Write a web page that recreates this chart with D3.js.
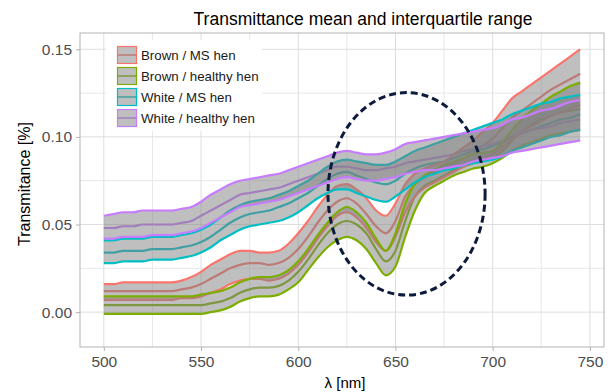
<!DOCTYPE html>
<html><head><meta charset="utf-8">
<script src="https://cdn.jsdelivr.net/npm/d3@7"></script>
<style>body{margin:0;background:#fff;} svg{display:block;font-family:"Liberation Sans",Arial,sans-serif;}</style>
</head><body><svg id="chart" width="616" height="392"></svg>
<script>
const wavelengths = [500,505,510,515,520,525,530,535,540,545,550,555,560,565,570,575,580,585,590,595,600,605,610,615,620,625,630,635,640,645,650,655,660,665,670,675,680,685,690,695,700,705,710,715,720,725,730,735,740,745];
const groups = ["Brown / MS hen","Brown / healthy hen","White / MS hen","White / healthy hen"];
const colors = ["#F8766D","#7CAE00","#00BFC4","#C77CFF"];

const brownMSLow = [.007,.007,.007,.007,.007,.007,.007,.007,.008,.008, .009,.011,.013,.016,.018,.019,.019,.018,.019,.022, .027,.034,.042,.049,.055,.057,.054,.048,.040,.035, .043,.057,.066,.071,.074,.077,.080,.083,.086,.088, .090,.094,.099,.103,.106,.109,.112,.114,.116,.118];
const brownMSMean = [.012,.012,.012,.012,.012,.012,.012,.012,.013,.014, .016,.019,.022,.025,.027,.028,.028,.027,.028,.031, .036,.043,.051,.058,.063,.065,.062,.056,.049,.045, .052,.066,.073,.077,.080,.082,.085,.088,.091,.095, .099,.105,.111,.115,.119,.123,.127,.130,.133,.136];
const brownMSHigh = [.016,.016,.017,.017,.017,.017,.017,.017,.018,.020, .023,.027,.030,.033,.035,.035,.034,.034,.035,.039, .045,.052,.060,.067,.072,.073,.070,.065,.058,.055, .062,.073,.079,.082,.084,.086,.090,.094,.098,.103, .108,.115,.122,.126,.130,.134,.138,.142,.146,.150];

const brownHealthyLow = [-.001,-.001,-.001,-.001,-.001,-.001,-.001,-.001,-.001,-.001, -.001,.000,.001,.003,.006,.008,.009,.009,.010,.013, .017,.024,.031,.037,.041,.043,.041,.036,.028,.021, .026,.043,.058,.068,.072,.075,.078,.080,.082,.083, .085,.088,.092,.095,.097,.099,.101,.102,.103,.104];
const brownHealthyMean = [.004,.004,.004,.004,.004,.004,.004,.004,.004,.004, .004,.005,.006,.008,.011,.013,.014,.014,.015,.018, .023,.030,.038,.045,.050,.052,.050,.045,.036,.029, .035,.052,.066,.072,.075,.078,.081,.083,.085,.087, .088,.092,.098,.103,.107,.110,.112,.114,.115,.116];
const brownHealthyHigh = [.009,.009,.009,.009,.009,.009,.009,.009,.009,.009, .010,.011,.012,.014,.017,.019,.020,.020,.021,.024, .029,.036,.044,.051,.057,.060,.057,.051,.042,.035, .045,.062,.073,.078,.081,.084,.086,.088,.090,.091, .092,.097,.104,.110,.115,.119,.123,.126,.129,.131];

const whiteMSLow = [.028,.028,.029,.029,.029,.030,.030,.030,.031,.032, .034,.037,.041,.044,.047,.049,.050,.051,.052,.054, .057,.061,.065,.068,.070,.070,.068,.066,.064,.063, .066,.070,.074,.077,.079,.081,.082,.084,.085,.086, .087,.089,.092,.094,.096,.098,.100,.101,.103,.104];
const whiteMSMean = [.034,.034,.035,.035,.035,.036,.036,.036,.037,.038, .040,.043,.047,.051,.054,.056,.057,.058,.060,.062, .065,.068,.072,.076,.079,.080,.078,.076,.074,.073, .075,.079,.082,.084,.085,.086,.088,.090,.092,.093, .095,.097,.100,.102,.104,.106,.108,.110,.111,.113];
const whiteMSHigh = [.041,.041,.042,.042,.042,.043,.043,.043,.044,.045, .047,.050,.054,.058,.061,.063,.064,.065,.067,.069, .072,.075,.079,.083,.086,.087,.086,.085,.084,.084, .086,.089,.092,.094,.096,.098,.100,.102,.104,.106, .108,.110,.113,.115,.117,.119,.120,.122,.123,.124];

const whiteHealthyLow = [.042,.042,.043,.043,.043,.044,.044,.044,.045,.046, .048,.051,.054,.057,.060,.061,.062,.063,.064,.066, .068,.070,.072,.074,.076,.077,.076,.075,.075,.076, .077,.079,.080,.081,.081,.082,.083,.084,.086,.087, .088,.089,.091,.092,.093,.094,.095,.096,.097,.098];
const whiteHealthyMean = [.048,.048,.049,.049,.050,.050,.050,.050,.051,.052, .055,.058,.061,.064,.067,.068,.069,.070,.071,.073, .075,.077,.079,.081,.083,.083,.082,.081,.081,.082, .083,.085,.086,.087,.088,.089,.090,.092,.093,.095, .096,.098,.100,.102,.104,.105,.106,.108,.109,.110];
const whiteHealthyHigh = [.055,.056,.057,.057,.058,.058,.058,.058,.059,.060, .063,.067,.070,.073,.075,.076,.077,.078,.079,.081, .083,.085,.087,.089,.091,.092,.091,.090,.090,.091, .093,.096,.097,.098,.099,.100,.101,.102,.103,.104, .105,.107,.110,.111,.113,.115,.116,.118,.120,.121];

const xTicks = [500,550,600,650,700,750];
const xMinorTicks = [525,575,625,675,725];
const yTicks = [0,0.05,0.10,0.15];
const yMinorTicks = [0.025,0.075,0.125];
const xLimits = [487.75,757.25];
const yLimits = [-0.0199,0.1593];
const ellipseCenter = [655.7,0.0675];
const ellipseRadii = [40.4,0.0578];
const titleText = "Transmittance mean and interquartile range";
const xTitle = "λ  [nm]";
const yTitle = "Transmitance [%]";

const series = [
  {name: groups[0], color: colors[0], low: brownMSLow, mean: brownMSMean, high: brownMSHigh},
  {name: groups[1], color: colors[1], low: brownHealthyLow, mean: brownHealthyMean, high: brownHealthyHigh},
  {name: groups[2], color: colors[2], low: whiteMSLow, mean: whiteMSMean, high: whiteMSHigh},
  {name: groups[3], color: colors[3], low: whiteHealthyLow, mean: whiteHealthyMean, high: whiteHealthyHigh}
];

const panel = {left: 80, right: 604, top: 33, bottom: 347};
const svg = d3.select("#chart");
const x = d3.scaleLinear().domain(xLimits).range([panel.left, panel.right]);
const y = d3.scaleLinear().domain(yLimits).range([panel.bottom, panel.top]);

// grid
const grid = svg.append("g");
grid.selectAll(".xm").data(xMinorTicks).join("line").attr("x1", d=>x(d)).attr("x2", d=>x(d)).attr("y1", panel.top).attr("y2", panel.bottom).attr("stroke", "#e8e8e8").attr("stroke-width", 1);
grid.selectAll(".ym").data(yMinorTicks).join("line").attr("y1", d=>y(d)).attr("y2", d=>y(d)).attr("x1", panel.left).attr("x2", panel.right).attr("stroke", "#e8e8e8").attr("stroke-width", 1);
grid.selectAll(".xM").data(xTicks).join("line").attr("x1", d=>x(d)).attr("x2", d=>x(d)).attr("y1", panel.top).attr("y2", panel.bottom).attr("stroke", "#dedede").attr("stroke-width", 1);
grid.selectAll(".yM").data(yTicks).join("line").attr("y1", d=>y(d)).attr("y2", d=>y(d)).attr("x1", panel.left).attr("x2", panel.right).attr("stroke", "#dedede").attr("stroke-width", 1);

const lineGen = d3.line().x((d,i)=>x(wavelengths[i])).y(d=>y(d)).curve(d3.curveMonotoneX);

// mean lines (under ribbons)
const data = svg.append("g");
series.forEach(s => {
  data.append("path").attr("d", lineGen(s.mean)).attr("fill","none").attr("stroke", s.color).attr("stroke-width", 2.2);
});
// ribbons
const area = d3.area().x((d)=>x(d.w)).y0(d=>y(d.lo)).y1(d=>y(d.hi)).curve(d3.curveMonotoneX);
series.forEach(s => {
  const pts = wavelengths.map((w,i)=>({w, lo: s.low[i], hi: s.high[i]}));
  data.append("path").attr("d", area(pts)).attr("fill", "#7f7f7f").attr("fill-opacity", 0.5);
  data.append("path").attr("d", lineGen(s.low)).attr("fill","none").attr("stroke", s.color).attr("stroke-width", 2.2);
  data.append("path").attr("d", lineGen(s.high)).attr("fill","none").attr("stroke", s.color).attr("stroke-width", 2.2);
});

// ellipse annotation
svg.append("ellipse")
  .attr("cx", x(ellipseCenter[0])).attr("cy", y(ellipseCenter[1]))
  .attr("rx", x(ellipseCenter[0]+ellipseRadii[0]) - x(ellipseCenter[0]))
  .attr("ry", y(ellipseCenter[1]-ellipseRadii[1]) - y(ellipseCenter[1]))
  .attr("fill","none").attr("stroke","#0c1a3e").attr("stroke-width",3).attr("stroke-dasharray","7,4");

// legend
const lg = svg.append("g");
lg.append("rect").attr("x",106).attr("y",40).attr("width",156).attr("height",91).attr("fill","#fff");
series.forEach((s,i) => {
  const ky = 46.5 + i*21;
  lg.append("line").attr("x1",117).attr("x2",137).attr("y1",ky+8.5).attr("y2",ky+8.5).attr("stroke",s.color).attr("stroke-width",1.5);
  lg.append("rect").attr("x",117.5).attr("y",ky).attr("width",19).attr("height",17).attr("fill","#7f7f7f").attr("fill-opacity",0.5).attr("stroke",s.color).attr("stroke-width",1.2);
  lg.append("text").attr("x",141).attr("y",ky+13).attr("font-size",13.3).attr("fill","#1a1a1a").text(s.name);
});

// border
svg.append("rect").attr("x",panel.left).attr("y",panel.top).attr("width",panel.right-panel.left).attr("height",panel.bottom-panel.top).attr("fill","none").attr("stroke","#b3b3b3").attr("stroke-width",1);

// axes
const yAxis = svg.append("g").attr("transform",`translate(${panel.left},0)`)
  .call(d3.axisLeft(y).tickValues(yTicks).tickFormat(d3.format(".2f")).tickSize(4).tickPadding(4));
const xAxis = svg.append("g").attr("transform",`translate(0,${panel.bottom})`)
  .call(d3.axisBottom(x).tickValues(xTicks).tickFormat(d3.format("d")).tickSize(4).tickPadding(5));
[yAxis, xAxis].forEach(a => {
  a.select(".domain").remove();
  a.selectAll(".tick line").attr("stroke","#b3b3b3");
  a.selectAll(".tick text").attr("fill","#4d4d4d").attr("font-size",15.5).attr("font-family",'"Liberation Sans",Arial,sans-serif');
});

// titles
svg.append("text").attr("x",363).attr("y",25).attr("text-anchor","middle").attr("font-size",17.5).attr("fill","#000").text(titleText);
svg.append("text").attr("x",345).attr("y",388).attr("text-anchor","middle").attr("font-size",15).attr("fill","#000").text(xTitle);
svg.append("text").attr("transform","translate(30,184) rotate(-90)").attr("text-anchor","middle").attr("font-size",16).attr("fill","#000").text(yTitle);
</script></body></html>
